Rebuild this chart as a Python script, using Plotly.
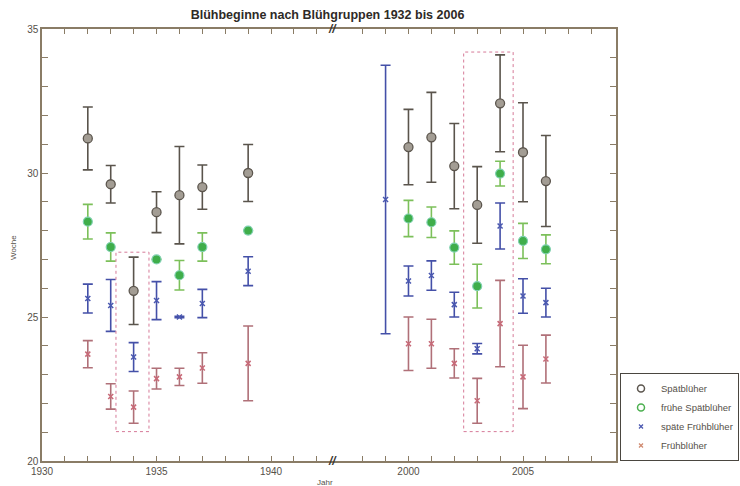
import plotly.graph_objects as go

# ---------------- data ----------------
spaet_years = [1932, 1933, 1934, 1935, 1936, 1937, 1939, 2000, 2001, 2002, 2003, 2004, 2005, 2006]
spaet_vals = [31.20, 29.61, 25.91, 28.64, 29.23, 29.51, 30.00, 30.90, 31.24, 30.24, 28.89, 32.42, 30.72, 29.72]
spaet_err = [1.09, 0.65, 1.17, 0.71, 1.69, 0.77, 0.99, 1.31, 1.56, 1.48, 1.33, 1.68, 1.72, 1.58]

fspaet_years = [1932, 1933, 1935, 1936, 1937, 1939, 2000, 2001, 2002, 2003, 2004, 2005, 2006]
fspaet_vals = [28.31, 27.43, 27.00, 26.45, 27.43, 28.00, 28.42, 28.29, 27.41, 26.07, 29.98, 27.64, 27.35]
fspaet_err = [0.60, 0.49, 0.0, 0.51, 0.49, 0.0, 0.63, 0.53, 0.58, 0.76, 0.43, 0.61, 0.50]

sfrueh_years = [1932, 1933, 1934, 1935, 1936, 1937, 1939, 1999, 2000, 2001, 2002, 2003, 2004, 2005, 2006]
sfrueh_vals = [25.64, 25.40, 23.61, 25.57, 25.00, 25.47, 26.59, 29.08, 26.25, 26.44, 25.43, 23.90, 28.16, 25.73, 25.50]
sfrueh_err = [0.50, 0.90, 0.50, 0.66, 0.02, 0.49, 0.50, 4.66, 0.52, 0.51, 0.43, 0.18, 0.80, 0.60, 0.50]

frueh_years = [1932, 1933, 1934, 1935, 1936, 1937, 1939, 2000, 2001, 2002, 2003, 2004, 2005, 2006]
frueh_vals = [23.71, 22.24, 21.87, 22.86, 22.92, 23.23, 23.39, 24.07, 24.07, 23.39, 22.09, 24.77, 22.92, 23.54]
frueh_err = [0.47, 0.44, 0.56, 0.36, 0.30, 0.53, 1.30, 0.93, 0.85, 0.51, 0.78, 1.50, 1.10, 0.83]

# highlight boxes: (x0, x1, y0, y1)
box_left = (1933.23, 1934.67, 21.02, 27.25)
box_right = (2002.41, 2004.57, 21.02, 34.20)

left_ticks = list(range(1930, 1943))
right_ticks = list(range(1998, 2009))
left_labels = ["1930", "", "", "", "", "1935", "", "", "", "", "1940", "", ""]
right_labels = ["", "", "2000", "", "", "", "", "2005", "", "", ""]

TITLE = "Blühbeginne nach Blühgruppen 1932 bis 2006"

# ---------------- layout constants ----------------
LEFT_RANGE = [1930, 1942.68]
RIGHT_RANGE = [1996.68, 2009.06]
span_l = LEFT_RANGE[1] - LEFT_RANGE[0]
span_r = RIGHT_RANGE[1] - RIGHT_RANGE[0]
BRK = span_l / (span_l + span_r)

AX = "#8a7c66"
TXT = "#555049"
FONT = "Liberation Sans"

fig = go.Figure()


def add_series(name, years, vals, errs, marker, ecolor, legend_marker):
    for side in ("L", "R"):
        idx = [i for i, y in enumerate(years) if (y < 1950) == (side == "L")]
        fig.add_trace(go.Scatter(
            x=[years[i] for i in idx],
            y=[vals[i] for i in idx],
            error_y=dict(type="data", array=[errs[i] for i in idx], color=ecolor,
                         thickness=1.6, width=5),
            mode="markers", marker=marker, name=name, legendgroup=name,
            showlegend=False,
            xaxis="x" if side == "L" else "x2",
            yaxis="y" if side == "L" else "y2",
        ))
    # legend entry (open symbol, as in the original legend)
    fig.add_trace(go.Scatter(x=[None], y=[None], mode="markers", marker=legend_marker,
                             name=name, legendgroup=name, showlegend=True,
                             xaxis="x", yaxis="y"))


add_series("Spätblüher", spaet_years, spaet_vals, spaet_err,
           dict(symbol="circle", size=9, color="#a39d94", line=dict(color="#5c564e", width=1.3)),
           "#5a544c",
           dict(symbol="circle-open", size=7, color="#5c564e", line=dict(width=1.5)))
add_series("frühe Spätblüher", fspaet_years, fspaet_vals, fspaet_err,
           dict(symbol="circle", size=9, color="#3fae4a", line=dict(color="#7fd0b0", width=1.2)),
           "#7cc05a",
           dict(symbol="circle-open", size=7, color="#4cb050", line=dict(width=1.5)))
add_series("späte Frühblüher", sfrueh_years, sfrueh_vals, sfrueh_err,
           dict(symbol="x-thin", size=5, color="#4a58b0", line=dict(color="#4a58b0", width=1.5)),
           "#4450a8",
           dict(symbol="x-thin", size=4, color="#4a58b0", line=dict(color="#4a58b0", width=1.3)))
add_series("Frühblüher", frueh_years, frueh_vals, frueh_err,
           dict(symbol="x-thin", size=5, color="#c86a78", line=dict(color="#c86a78", width=1.5)),
           "#b07078",
           dict(symbol="x-thin", size=4, color="#d08a70", line=dict(color="#d08a70", width=1.3)))

xcommon = dict(showline=True, linecolor=AX, linewidth=1.5, mirror="ticks", ticks="inside",
               ticklen=5, tickcolor=AX, tickwidth=1, showgrid=False, zeroline=False,
               tickmode="array", tickfont=dict(family=FONT, size=10, color=TXT))

fig.update_layout(
    width=740, height=486,
    margin=dict(l=42, r=124, t=29, b=25, autoexpand=False),
    paper_bgcolor="white", plot_bgcolor="white",
    font=dict(family=FONT, color=TXT),
    title=dict(text="<b>" + TITLE + "</b>", x=0.5 * (42 + 616) / 740 - 0.002, xanchor="center",
               y=1 - 15 / 486, yanchor="middle",
               font=dict(family=FONT, size=12.5, color="#2e2a26")),
    xaxis=dict(domain=[0, BRK], range=LEFT_RANGE, tickvals=left_ticks, ticktext=left_labels,
               anchor="y", **xcommon),
    xaxis2=dict(domain=[BRK, 1], range=RIGHT_RANGE, tickvals=right_ticks, ticktext=right_labels,
                anchor="y2", **xcommon),
    yaxis=dict(range=[20, 35], anchor="x", showline=True, linecolor=AX, linewidth=1.5,
               ticks="inside", ticklen=6, tickcolor=AX, tickmode="linear", tick0=20, dtick=5,
               minor=dict(dtick=1, ticks="inside", ticklen=6, tickcolor=AX),
               showgrid=False, zeroline=False,
               tickfont=dict(family=FONT, size=10, color=TXT)),
    yaxis2=dict(range=[20, 35], anchor="x2", overlaying="y", side="right", showline=True,
                linecolor=AX, linewidth=1.5, ticks="inside", ticklen=6, tickcolor=AX,
                tickmode="linear", tick0=20, dtick=5,
                minor=dict(dtick=1, ticks="inside", ticklen=6, tickcolor=AX),
                showticklabels=False, showgrid=False, zeroline=False),
    legend=dict(x=(620 - 42) / 574, xanchor="left", y=0, yanchor="bottom",
                bordercolor="#4a4640", borderwidth=1, bgcolor="white",
                font=dict(family=FONT, size=9.5, color=TXT), itemwidth=30,
                tracegroupgap=0, itemsizing="trace"),
    showlegend=True,
)

# highlight boxes
for (x0, x1, y0, y1), xr, yr in ((box_left, "x", "y"), (box_right, "x2", "y2")):
    fig.add_shape(type="rect", xref=xr, yref=yr, x0=x0, x1=x1, y0=y0, y1=y1,
                  line=dict(color="#d67a98", width=1, dash="dot"), fillcolor="rgba(0,0,0,0)")

# axis break marks
for yy in (0, 1):
    fig.add_annotation(xref="paper", yref="paper", x=BRK, y=yy, text="<b><i>//</i></b>",
                       showarrow=False, font=dict(family=FONT, size=12, color="#3a3630"),
                       xanchor="center", yanchor="middle", bgcolor="rgba(0,0,0,0)")

# axis titles
fig.add_annotation(xref="paper", yref="paper", x=(325 - 42) / 574, y=-(482 - 461) / 432,
                   text="Jahr", showarrow=False, font=dict(family=FONT, size=8, color=TXT),
                   xanchor="center", yanchor="middle")
fig.add_annotation(xref="paper", yref="paper", x=-(42 - 13) / 574, y=(461 - 248) / 432,
                   text="Woche", textangle=-90, showarrow=False,
                   font=dict(family=FONT, size=8, color=TXT),
                   xanchor="center", yanchor="middle")

fig.write_html("out.html")
